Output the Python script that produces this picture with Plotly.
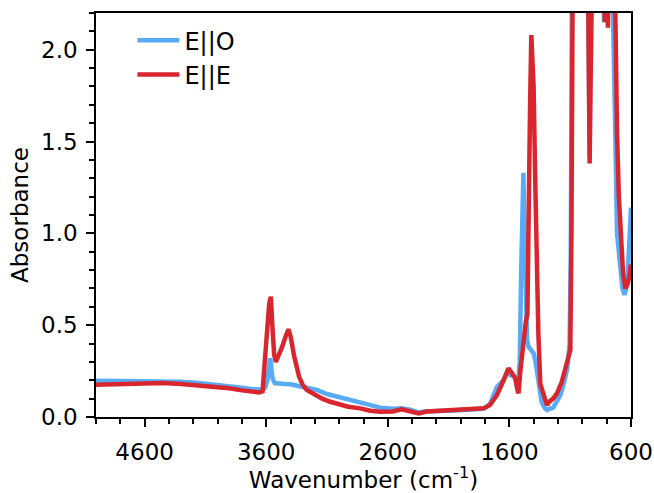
import plotly.graph_objects as go

# E||O (blue) spectrum: wavenumber (cm-1) and absorbance
wn_o = [5000, 4800, 4600, 4450, 4300, 4177, 4050, 3906, 3800, 3710, 3640, 3610, 3590, 3575, 3568, 3560, 3548,
        3530, 3513, 3450, 3400, 3321, 3250, 3184, 3100, 2992, 2926, 2827, 2745, 2663, 2560, 2485, 2420, 2347,
        2300, 2169, 2050, 1950, 1812, 1760, 1702, 1648, 1620, 1595, 1560, 1530, 1515, 1503, 1492, 1485, 1478,
        1468, 1455, 1443, 1420, 1401, 1385, 1370, 1355, 1335, 1310, 1291, 1270, 1240, 1210, 1180, 1150, 1125,
        1105, 1095, 1088, 1080, 960, 950, 945, 940, 935, 925, 915, 830, 822, 815, 800, 795, 785, 760, 742, 728,
        715, 700, 687, 670, 654, 640, 625, 612, 600]
abs_o = [0.198, 0.197, 0.196, 0.196, 0.192, 0.187, 0.179, 0.169, 0.160, 0.151, 0.150, 0.160, 0.20, 0.28, 0.32,
         0.28, 0.21, 0.185, 0.183, 0.18, 0.178, 0.165, 0.155, 0.147, 0.125, 0.107, 0.093, 0.075, 0.065, 0.051,
         0.045, 0.048, 0.04, 0.025, 0.03, 0.03, 0.035, 0.04, 0.045, 0.07, 0.165, 0.20, 0.247, 0.23, 0.22, 0.18,
         0.30, 0.80, 1.20, 1.33, 1.10, 0.65, 0.42, 0.383, 0.36, 0.347, 0.30, 0.22, 0.15, 0.08, 0.05, 0.038,
         0.045, 0.05, 0.085, 0.12, 0.19, 0.26, 0.40, 0.9, 2.0, 3.0, 3.0, 2.3, 1.9, 1.42, 1.9, 2.4, 3.0, 2.6,
         2.15, 2.4, 2.4, 2.15, 2.5, 2.6, 2.09, 1.5, 1.0, 0.88, 0.78, 0.70, 0.665, 0.70, 0.80, 0.95, 1.14]

# E||E (red) spectrum
wn_e = [5000, 4800, 4600, 4451, 4300, 4177, 4050, 3906, 3800, 3710, 3660, 3630, 3615, 3595, 3575, 3562, 3550,
        3535, 3521, 3500, 3470, 3440, 3417, 3400, 3370, 3330, 3300, 3266, 3200, 3140, 3074, 2992, 2926, 2827,
        2745, 2663, 2560, 2485, 2420, 2347, 2280, 2169, 2050, 1950, 1812, 1760, 1730, 1702, 1648, 1607, 1580,
        1552, 1535, 1525, 1510, 1497, 1480, 1465, 1452, 1440, 1430, 1420, 1410, 1401, 1388, 1375, 1362, 1346,
        1320, 1305, 1291, 1270, 1240, 1209, 1170, 1140, 1110, 1099, 1090, 1083, 1075, 962, 955, 948, 940, 933,
        920, 907, 830, 815, 805, 790, 780, 735, 730, 722, 715, 700, 687, 665, 646, 630, 615, 600]
abs_e = [0.176, 0.180, 0.183, 0.185, 0.180, 0.174, 0.166, 0.156, 0.145, 0.136, 0.134, 0.14, 0.25, 0.45, 0.62,
         0.655, 0.50, 0.34, 0.30, 0.33, 0.38, 0.44, 0.478, 0.44, 0.33, 0.22, 0.175, 0.147, 0.12, 0.10, 0.083,
         0.069, 0.056, 0.047, 0.034, 0.029, 0.03, 0.042, 0.03, 0.02, 0.03, 0.034, 0.04, 0.047, 0.047, 0.065,
         0.093, 0.12, 0.20, 0.265, 0.24, 0.21, 0.15, 0.129, 0.25, 0.33, 0.45, 0.52, 0.56, 1.00, 1.70, 2.08,
         1.95, 1.80, 1.30, 0.80, 0.456, 0.18, 0.11, 0.093, 0.065, 0.085, 0.10, 0.129, 0.19, 0.256, 0.33, 0.365,
         1.0, 2.0, 3.0, 3.0, 2.2, 1.8, 1.38, 1.8, 2.4, 3.0, 2.6, 2.15, 2.5, 2.12, 2.5, 2.5, 2.2, 1.85, 1.55,
         1.2, 1.0, 0.78, 0.70, 0.72, 0.76, 0.83]

series_names = ["E||O", "E||E"]
x_ticks = [4600, 3600, 2600, 1600, 600]
y_ticks = [0.0, 0.5, 1.0, 1.5, 2.0]

BLUE = "#5aabf5"
RED = "#d9262e"
FONT = "DejaVu Sans"
FS = 23

fig = go.Figure()
fig.add_trace(go.Scatter(x=wn_o, y=abs_o, mode="lines", name=series_names[0],
                         line=dict(color=BLUE, width=4.5)))
fig.add_trace(go.Scatter(x=wn_e, y=abs_e, mode="lines", name=series_names[1],
                         line=dict(color=RED, width=4.5)))

axis_common = dict(showline=True, linecolor="black", linewidth=1.5, mirror=True, showgrid=False,
                   zeroline=False, ticks="outside", tickcolor="black", ticklen=8, tickwidth=1.5,
                   automargin=False, tickfont=dict(family=FONT, size=FS, color="black"))

fig.update_layout(
    width=654, height=493,
    margin=dict(l=96, r=23, t=13, b=76),
    paper_bgcolor="white", plot_bgcolor="white",
    font=dict(family=FONT, size=FS, color="black"),
    showlegend=True,
    legend=dict(x=0.068, y=0.987, xanchor="left", yanchor="top", bgcolor="rgba(0,0,0,0)",
                font=dict(family=FONT, size=24, color="black"), itemwidth=42),
    xaxis=dict(range=[5000, 600], tickvals=x_ticks, ticktext=[str(v) for v in x_ticks],
               ticklabelstandoff=6,
               minor=dict(dtick=200, tick0=600, ticks="outside", ticklen=5, tickwidth=1.5, tickcolor="black"),
               title=dict(text="Wavenumber (cm<sup>-1</sup>)", font=dict(family=FONT, size=FS), standoff=11),
               **axis_common),
    yaxis=dict(range=[0, 2.2], tickvals=y_ticks, ticktext=["%.1f" % v for v in y_ticks],
               ticklabelstandoff=4,
               minor=dict(dtick=0.1, tick0=0, ticks="outside", ticklen=5, tickwidth=1.5, tickcolor="black"),
               title=dict(text="Absorbance", font=dict(family=FONT, size=FS), standoff=6),
               **axis_common),
)

fig.write_html("out.html", config={"displayModeBar": False},
               post_script="document.body.style.margin='0px';")
